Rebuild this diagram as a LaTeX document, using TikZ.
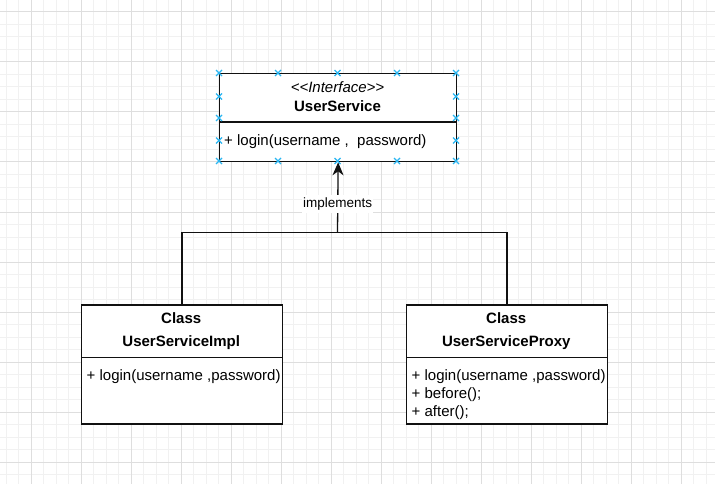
\documentclass[tikz,border=0pt]{standalone}
\usepackage{fontspec}
\setmainfont{Liberation Sans}
\usetikzlibrary{arrows.meta}
\definecolor{gridminor}{HTML}{F1F1F1}
\definecolor{gridmajor}{HTML}{DEDEDE}
\definecolor{handlec}{HTML}{29B6F2}
\definecolor{strokec}{HTML}{111111}
\begin{document}
\begin{tikzpicture}[x=1pt,y=-1pt,
  umlbox/.style={draw=strokec, line width=1.3pt, fill=white, inner sep=0pt, anchor=north west},
  divider/.style={draw=strokec, line width=1.1pt},
  txt/.style={inner sep=0pt, font=\fontsize{15pt}{18pt}\selectfont},
  btxt/.style={inner sep=0pt, font=\fontsize{15pt}{18pt}\selectfont\bfseries},
  conn/.style={draw=strokec, line width=1.3pt},
  handlemark/.style={draw=handlec, line width=1.2pt}
]
\useasboundingbox (0,0) rectangle (715,484);
\fill[white] (0,0) rectangle (715,484);
% grid
\foreach \x in {6,18.5,...,715} \draw[gridminor, line width=1pt] (\x,0) -- (\x,484);
\foreach \y in {12,24.5,...,484} \draw[gridminor, line width=1pt] (0,\y) -- (715,\y);
\foreach \x in {31,81,...,715} \draw[gridmajor, line width=1pt] (\x,0) -- (\x,484);
\foreach \y in {12,62,...,484} \draw[gridmajor, line width=1pt] (0,\y) -- (715,\y);

% interface box
\node[umlbox, minimum width=237pt, minimum height=88pt] (iface) at (219,73) {};
\draw[divider] (219,122) -- (456,122);
\node[txt, anchor=base, font=\fontsize{15pt}{18pt}\selectfont\itshape] (ister) at (337.5,92.3) {<\kern0pt<Interface>\kern0pt>};
\node[btxt, anchor=base] (iname) at (337.5,111.7) {UserService};
\node[txt, anchor=base west] (ilogin) at (224,146) {+ login(username ,\ \ password)};

% impl box
\node[umlbox, minimum width=200.5pt, minimum height=119pt] (impl) at (81,304.3) {};
\draw[divider] (81,357.3) -- (281.5,357.3);
\node[btxt, anchor=base] (implc) at (181.25,323.3) {Class};
\node[btxt, anchor=base] (impln) at (181.25,346.7) {UserServiceImpl};
\node[txt, anchor=base west] (impll) at (86.5,380) {+ login(username ,password)};

% proxy box
\node[umlbox, minimum width=200.5pt, minimum height=119pt] (proxy) at (406,304.3) {};
\draw[divider] (406,357.3) -- (606.5,357.3);
\node[btxt, anchor=base] (proxyc) at (506.25,323.3) {Class};
\node[btxt, anchor=base] (proxyn) at (506.25,346.7) {UserServiceProxy};
\node[txt, anchor=base west] (proxyl1) at (411.5,380) {+ login(username ,password)};
\node[txt, anchor=base west] (proxyl2) at (411.5,398.3) {+ before();};
\node[txt, anchor=base west] (proxyl3) at (411.5,416.7) {+ after();};

% connectors
\coordinate (j) at (337.5,232.5);
\draw[conn] (impl.north) |- (j) -| (proxy.north);
\draw[conn, -{Stealth[length=13pt,width=11pt,inset=4pt]}] (j) -- (iface.south)
  node[pos=0.356, anchor=base, fill=white, inner xsep=1pt, inner ysep=3pt, font=\fontsize{13.5pt}{16pt}\selectfont] (lbl) {implements};

% selection handles
\foreach \hx in {219,278,337.5,397,456} {
  \foreach \hy in {73,161} {
    \draw[handlemark] (\hx-3,\hy-3) -- (\hx+3,\hy+3) (\hx-3,\hy+3) -- (\hx+3,\hy-3);
  }
}
\foreach \hx in {219,456} {
  \foreach \hy in {96.5,118,140.5} {
    \draw[handlemark] (\hx-3,\hy-3) -- (\hx+3,\hy+3) (\hx-3,\hy+3) -- (\hx+3,\hy-3);
  }
}
\end{tikzpicture}
\end{document}
